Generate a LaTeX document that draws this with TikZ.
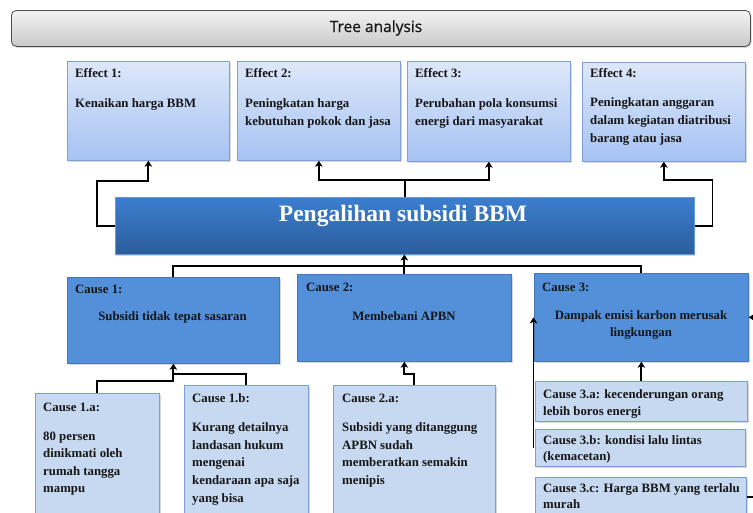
\documentclass[tikz,border=0pt]{standalone}
\usepackage{fontspec}
\setmainfont{Liberation Serif}
\newfontfamily\titlefont[FakeBold=0.7]{Open Sans}
\usetikzlibrary{arrows.meta,calc,shadows}
\definecolor{effTop}{HTML}{DDE7F9}
\definecolor{effBot}{HTML}{A6C3F3}
\definecolor{effBorder}{HTML}{7F9FD3}
\definecolor{mainTop}{HTML}{3C7ECF}
\definecolor{mainBot}{HTML}{2B5D9C}
\definecolor{causeFill}{HTML}{5490D9}
\definecolor{causeBorder}{HTML}{4677B6}
\definecolor{subFill}{HTML}{C6D9F1}
\definecolor{subBorder}{HTML}{7C9FD1}
\definecolor{titleTop}{HTML}{F3F3F3}
\definecolor{titleBot}{HTML}{C9C9C9}
\definecolor{txtcol}{HTML}{161616}
\begin{document}
\begin{tikzpicture}[x=1pt,y=-1pt,
  softshadow/.style={drop shadow={shadow xshift=1.2pt,shadow yshift=-1.5pt,opacity=0.25,fill=black!60}},
  titlebox/.style={draw=black!70, line width=0.8pt, rounded corners=5pt, top color=titleTop, bottom color=titleBot, anchor=north west, inner sep=0pt, softshadow},
  effbox/.style={draw=effBorder, line width=0.7pt, top color=effTop, bottom color=effBot, anchor=north west, inner sep=0pt, softshadow},
  mainbox/.style={draw=mainTop!80!white, line width=0.5pt, top color=mainTop, bottom color=mainBot, anchor=north west, inner sep=0pt, softshadow},
  causebox/.style={draw=causeBorder, line width=0.7pt, fill=causeFill, anchor=north west, inner sep=0pt, softshadow},
  subbox/.style={draw=subBorder, line width=0.7pt, fill=subFill, anchor=north west, inner sep=0pt, softshadow},
  hd/.style={anchor=base west, inner sep=0pt, text=txtcol, font=\fontsize{12.8}{17}\selectfont\bfseries},
  txt/.style={anchor=north west, inner sep=0pt, align=left, text=txtcol, font=\fontsize{12.8}{18}\selectfont\bfseries},
  ctxt/.style={anchor=center, inner sep=0pt, align=center, text=txtcol, font=\fontsize{12.8}{17.5}\selectfont\bfseries},
  conn/.style={draw=black, line width=1.9pt, line join=miter},
  arr/.style={conn, -{Stealth[length=6pt,width=7.5pt,inset=1.5pt]}}
]
\useasboundingbox (0,0) rectangle (753,512);
\clip (0,0) rectangle (753,512);

% title
\node[titlebox, minimum width=739pt, minimum height=36pt] (title) at (11,10) {};
\node[inner sep=0pt, text=txtcol, font=\titlefont\fontsize{15.5}{18}\selectfont] (titletxt) at (376,28) {Tree analysis};

% effects
\node[effbox, minimum width=162pt, minimum height=99pt] (e1) at (67,61) {};
\node[hd] (e1h) at (75,77) {Effect 1:};
\node[txt] (e1t) at (75,98.5) {Kenaikan harga BBM};

\node[effbox, minimum width=163pt, minimum height=99pt] (e2) at (237,61) {};
\node[hd] (e2h) at (245,77) {Effect 2:};
\node[txt] (e2t) at (245,98.5) {Peningkatan harga\\kebutuhan pokok dan jasa};

\node[effbox, minimum width=163pt, minimum height=100pt] (e3) at (407,61) {};
\node[hd] (e3h) at (415,77) {Effect 3:};
\node[txt] (e3t) at (415,98.5) {Perubahan pola konsumsi\\energi dari masyarakat};

\node[effbox, minimum width=163pt, minimum height=99pt] (e4) at (582,62) {};
\node[hd] (e4h) at (590,77) {Effect 4:};
\node[txt] (e4t) at (590,97.5) {Peningkatan anggaran\\dalam kegiatan diatribusi\\barang atau jasa};

% main
\node[mainbox, minimum width=579pt, minimum height=57pt] (main) at (115,197) {};
\node[inner sep=0pt, text=white, font=\fontsize{23.5}{26}\selectfont\bfseries] (maintxt) at (403,216) {Pengalihan subsidi BBM};

% causes
\node[causebox, minimum width=212pt, minimum height=86pt] (c1) at (67,277) {};
\node[hd] (c1h) at (75,293) {Cause 1:};
\node[ctxt] (c1t) at (172.5,317) {Subsidi tidak tepat sasaran};

\node[causebox, minimum width=214pt, minimum height=87pt] (c2) at (297,274) {};
\node[hd] (c2h) at (306,291) {Cause 2:};
\node[ctxt] (c2t) at (404,316) {Membebani APBN};

\node[causebox, minimum width=214pt, minimum height=88pt] (c3) at (534,273) {};
\node[hd] (c3h) at (542,291) {Cause 3:};
\node[ctxt] (c3t) at (641,325) {Dampak emisi karbon merusak\\lingkungan};

% sub causes
\node[subbox, minimum width=124pt, minimum height=140pt] (s1a) at (35,393) {};
\node[hd] (s1ah) at (43,411) {Cause 1.a:};
\node[txt, font=\fontsize{12.8}{17.2}\selectfont\bfseries] (s1at) at (43,432) {80 persen\\dinikmati oleh\\rumah tangga\\mampu};

\node[subbox, minimum width=124pt, minimum height=140pt] (s1b) at (184,385) {};
\node[hd] (s1bh) at (192,402) {Cause 1.b:};
\node[txt, font=\fontsize{12.8}{17.7}\selectfont\bfseries] (s1bt) at (192,422.5) {Kurang detailnya\\landasan hukum\\mengenai\\kendaraan apa saja\\yang bisa};

\node[subbox, minimum width=162pt, minimum height=140pt] (s2a) at (333,385) {};
\node[hd] (s2ah) at (342,402) {Cause 2.a:};
\node[txt, font=\fontsize{12.8}{17.7}\selectfont\bfseries] (s2at) at (342,422.5) {Subsidi yang ditanggung\\APBN sudah\\memberatkan semakin\\menipis};

\node[subbox, minimum width=212pt, minimum height=40pt] (s3a) at (535,381) {};
\node[txt, font=\fontsize{12.8}{16.5}\selectfont\bfseries] (s3at) at (543,389.5) {Cause 3.a: kecenderungan orang\\lebih boros energi};

\node[subbox, minimum width=210pt, minimum height=37pt] (s3b) at (535,429) {};
\node[txt, font=\fontsize{12.8}{16}\selectfont\bfseries] (s3bt) at (543,435.5) {Cause 3.b: kondisi lalu lintas\\(kemacetan)};

\node[subbox, minimum width=211pt, minimum height=40pt] (s3c) at (535,477) {};
\node[txt, font=\fontsize{12.8}{15.5}\selectfont\bfseries] (s3ct) at (543,483.5) {Cause 3.c: Harga BBM yang terlalu\\murah};

% connectors main -> effects
\draw[arr] (main.west) -- ++(-18,0) |- ($(e1.south)+(0,20)$) -- (e1.south);
\draw[arr] (main.north) |- ($(e2.south)+(0,19)$) -- (e2.south);
\draw[arr] (main.north) |- ($(e3.south)+(0,18)$) -- (e3.south);
\draw[arr] (main.east) -- ++(18,0) |- ($(e4.south)+(0,18)$) -- (e4.south);

% causes -> main
\draw[conn] (c1.north) -- ++(0,-11) -| (c3.north);
\draw[arr] (c2.north) -- (c2.north |- main.south);

% sub causes -> causes
\draw[arr] (s1a.north) |- ($(c1.south)+(0,17)$) -- (c1.south);
\draw[conn] (s1b.north) |- ($(c1.south)+(0,10)$) -- ($(c1.south)+(0,6)$);
\draw[arr] (s2a.north) |- ($(c2.south)+(0,12)$) -- (c2.south);
\draw[arr] (s3a.north) -- (c3.south);
\draw[arr] ([xshift=-1.5pt]s3b.west) -- ([xshift=-1.5pt]s3b.west |- c3.west);
\draw[arr] (s3c.east) -- ++(14,0) |- (c3.east);
\end{tikzpicture}
\end{document}
